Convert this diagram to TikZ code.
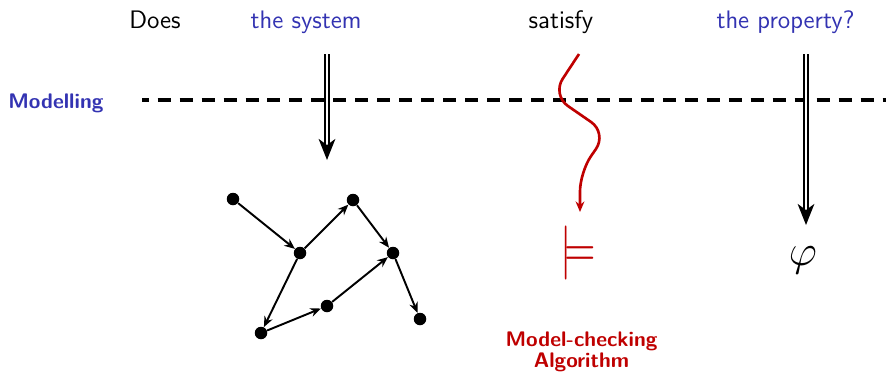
\documentclass[tikz,border=0pt]{standalone}
\usepackage{graphicx}
\usetikzlibrary{arrows.meta}
\definecolor{structblue}{rgb}{0.2,0.2,0.7}
\definecolor{alertred}{rgb}{0.75,0,0}
\tikzset{
    vertex/.style={circle,fill,inner sep=0pt,minimum size=0.25cm},
    trans/.style={-{Stealth[length=6pt,width=5pt]},line width=1.1pt},
    modarrow/.style={double,double distance=1.6pt,line width=0.9pt,
        -{Stealth[length=12pt,width=9.5pt,inset=3.5pt]}}
}
\begin{document}
\sffamily
\begin{tikzpicture}
    \useasboundingbox (0,0) rectangle (17.72,-7.52);
    % the question
    \node[anchor=base] (does) at (3.1,-0.56) {\Large Does};
    \node[anchor=base,structblue] (sys) at (6.12,-0.56) {\Large the system};
    \node[anchor=base] (sat) at (11.22,-0.56) {\Large satisfy};
    \node[anchor=base,structblue] (prop) at (15.71,-0.56) {\Large the property?};
    % modelling line
    \node[anchor=base west,inner sep=0pt,structblue] (model) at (0.16,-2.16) {\large\bfseries Modelling};
    \draw[line width=2.2pt,dash pattern=on 7.4pt off 5.1pt,dash phase=3.6pt] (2.84,-2) -- (17.72,-2);
    % the system
    \coordinate (systop) at (6.54,-1.08);
    \coordinate (sysend) at (6.54,-3.2);
    \draw[modarrow] (systop) -- (sysend);
    \node[vertex] (n1) at (4.66,-3.98) {};
    \node[vertex] (n2) at (6.0,-5.06) {};
    \node[vertex] (n3) at (7.06,-4.0) {};
    \node[vertex] (n4) at (7.86,-5.06) {};
    \node[vertex] (n5) at (6.54,-6.12) {};
    \node[vertex] (n6) at (5.22,-6.66) {};
    \node[vertex] (n7) at (8.4,-6.38) {};
    \foreach \a/\b in {n1/n2,n2/n3,n3/n4,n2/n6,n6/n5,n5/n4,n4/n7}
    {
        \draw[trans] (\a) -- (\b);
    }
    % model checking
    \coordinate (wavetop) at (11.58,-1.08);
    \coordinate (waveend) at (11.6,-4.24);
    \draw[alertred,line width=1.5pt,rounded corners=11pt,-{Stealth[length=6pt,width=5pt]}]
        (wavetop) -- (11.04,-1.9) -- (12.14,-2.66) -- (11.6,-3.44) -- (waveend);
    \node[alertred,inner sep=0pt] (models) at (11.56,-5.06) {\resizebox*{0.72cm}{1.08cm}{$\models$}};
    \node[alertred,align=center,inner sep=0pt] (algo) at (11.63,-7.04) {\large\bfseries Model-checking\\\large\bfseries Algorithm};
    % the property
    \coordinate (proptop) at (16.12,-1.08);
    \coordinate (propend) at (16.12,-4.5);
    \draw[modarrow] (proptop) -- (propend);
    \node (phi) at (16.06,-5.21) {\fontsize{33}{40}\selectfont$\varphi$};
\end{tikzpicture}
\end{document}
